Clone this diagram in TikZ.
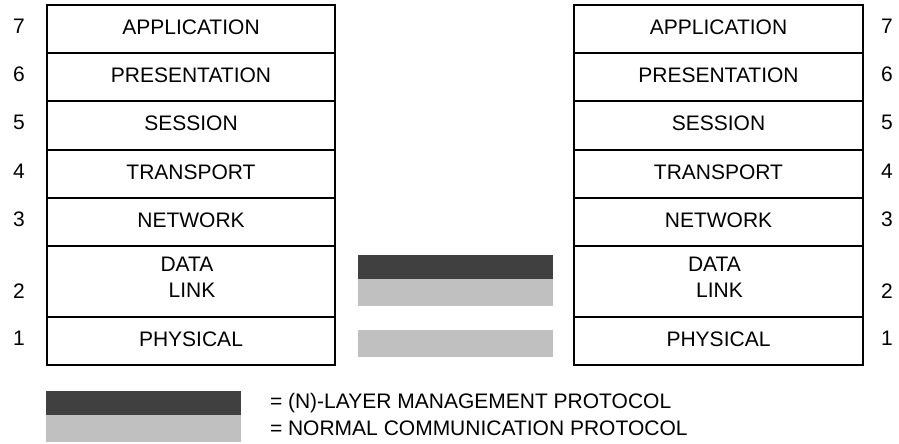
\documentclass[tikz,border=0pt]{standalone}
\usepackage{fontspec}
\setmainfont{Liberation Sans}
\definecolor{mgmt}{HTML}{404040}
\definecolor{normal}{HTML}{C0C0C0}
\begin{document}
\begin{tikzpicture}[x=1pt,y=-1pt,
  layerbox/.style={draw=black, line width=2pt, inner sep=0pt, outer sep=0pt},
  txt/.style={inner sep=0pt, outer sep=0pt, font=\fontsize{21pt}{25pt}\selectfont},
  protobar/.style={inner sep=0pt, outer sep=0pt, minimum width=195pt},
]
\useasboundingbox (0,0) rectangle (899,444);

% Two seven-layer stacks: name/left centre/width/number column
\foreach \s/\cx/\w/\nx in {L/191/288/19, R/718.5/289/887} {
  \foreach \n/\t/\top/\bot in {7/APPLICATION/5/53, 6/PRESENTATION/53/101,
      5/SESSION/101/149.5, 4/TRANSPORT/149.5/198, 3/NETWORK/198/246,
      1/PHYSICAL/317/365} {
    \pgfmathsetmacro\h{\bot-\top}
    \pgfmathsetmacro\cy{(\top+\bot)/2}
    \node[layerbox, minimum width=\w pt, minimum height=\h pt] (\s\n) at (\cx,\cy) {};
    \node[txt] (\s\n text) at ([yshift=1.5pt]\s\n.center) {\t};
    \node[txt] (\s\n num) at (\nx,\cy-2.5) {\n};
  }
  % data link layer is taller and set on two lines
  \node[layerbox, minimum width=\w pt, minimum height=71pt] (\s2) at (\cx,281.5) {};
  \node[txt] (\s2 data) at (\cx-4,264.5) {DATA};
  \node[txt] (\s2 link) at (\cx+1,290.5) {LINK};
  \node[txt] (\s2 num) at (\nx,291.5) {2};
}

% Protocol bars between the stacks
\node[protobar, fill=mgmt, minimum height=24pt] (dlmgmt) at (455.5,267) {};
\node[protobar, fill=normal, minimum height=27pt] (dlnorm) at (455.5,292.5) {};
\node[protobar, fill=normal, minimum height=27pt] (phnorm) at (455.5,343.5) {};

% Legend
\node[protobar, fill=mgmt, minimum height=24pt] (keymgmt) at (143.5,403) {};
\node[protobar, fill=normal, minimum height=27pt] (keynorm) at (143.5,428.5) {};
\node[txt, anchor=base west] (keymgmttext) at (270,408) {= (N)-LAYER MANAGEMENT PROTOCOL};
\node[txt, anchor=base west] (keynormtext) at (270,435) {= NORMAL COMMUNICATION PROTOCOL};
\end{tikzpicture}
\end{document}
